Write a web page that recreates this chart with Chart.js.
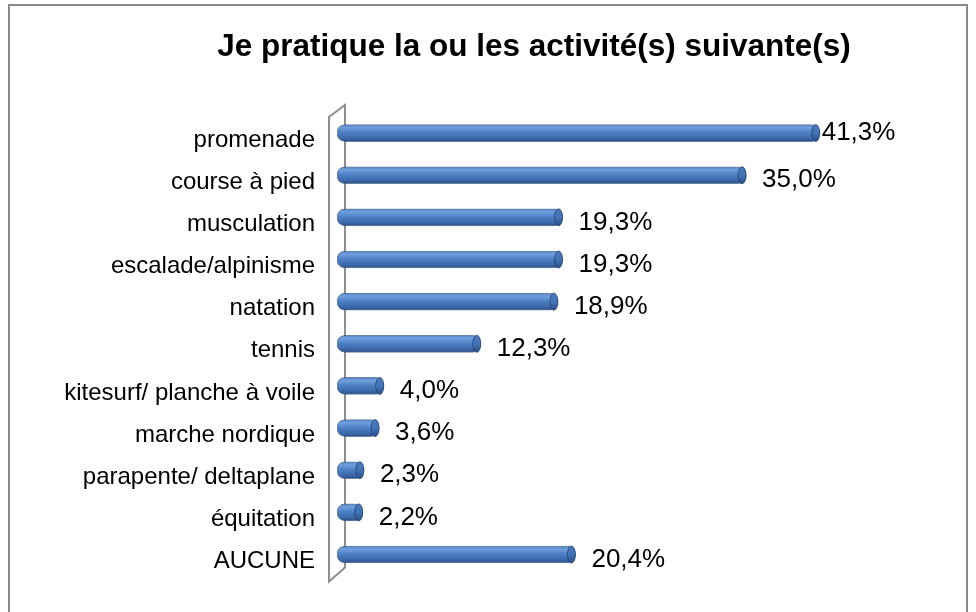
<!DOCTYPE html>
<html>
<head>
<meta charset="utf-8">
<script src="https://cdn.jsdelivr.net/npm/chart.js@4.4.1/dist/chart.umd.min.js"></script>
<style>
  body { margin: 0; background: #fff; }
  #wrap { position: relative; width: 976px; height: 612px; }
  #titre {
    position: absolute; left: 0; width: 1068px; top: 26px;
    text-align: center; font: bold 31.5px 'Liberation Sans', Arial, sans-serif;
    line-height: 38px; color: #000;
  }
</style>
</head>
<body>
<div id="wrap">
  <canvas id="barres" width="976" height="612"></canvas>
  <div id="titre"></div>
</div>
<script>
const categories = ['promenade', 'course à pied', 'musculation', 'escalade/alpinisme', 'natation',
  'tennis', 'kitesurf/ planche à voile', 'marche nordique', 'parapente/ deltaplane', 'équitation', 'AUCUNE'];
const values = [41.3, 35.0, 19.3, 19.3, 18.9, 12.3, 4.0, 3.6, 2.3, 2.2, 20.4];
const titre = 'Je pratique la ou les activité(s) suivante(s)';

const police = "'Liberation Sans', Arial, sans-serif";

document.getElementById('titre').textContent = titre;

function pourcent(v) {
  return v.toFixed(1).replace('.', ',') + '%';
}

// degradé vertical pour donner l'effet cylindre
function cylindre(ctx) {
  const chart = ctx.chart;
  if (ctx.dataIndex === undefined || !chart.chartArea || !chart.scales.y) return '#4f81bd';
  const y = chart.scales.y.getPixelForValue(ctx.dataIndex);
  const g = chart.ctx.createLinearGradient(0, y - 8.5, 0, y + 8.5);
  g.addColorStop(0, '#5283c8');
  g.addColorStop(0.18, '#719fdc');
  g.addColorStop(0.45, '#4f82c7');
  g.addColorStop(0.8, '#3c69aa');
  g.addColorStop(1, '#2a4e85');
  return g;
}

const decor = {
  id: 'decor',
  beforeDraw(chart) {
    const c = chart.ctx;
    c.save();
    c.strokeStyle = '#888';
    c.lineWidth = 2;
    c.strokeRect(9, 5, 958, 640);
    c.restore();
  },
  beforeDatasetsDraw(chart) {
    const {left, top, bottom} = chart.chartArea;
    const c = chart.ctx;
    c.save();
    c.strokeStyle = '#8e8e8e';
    c.lineWidth = 2;
    c.beginPath();
    c.moveTo(left - 8, top + 5);
    c.lineTo(left + 8, top - 7);
    c.lineTo(left + 8, bottom - 8);
    c.lineTo(left - 8, bottom + 6);
    c.closePath();
    c.stroke();
    c.restore();
  },
  afterDatasetsDraw(chart) {
    const c = chart.ctx;
    const meta = chart.getDatasetMeta(0);
    const area = chart.chartArea;
    c.save();
    meta.data.forEach((bar, i) => {
      // bout du cylindre
      const g = c.createLinearGradient(0, bar.y - 8, 0, bar.y + 8);
      g.addColorStop(0, '#4a79bd');
      g.addColorStop(0.5, '#4474b8');
      g.addColorStop(1, '#2b5089');
      c.beginPath();
      c.ellipse(bar.x - 4, bar.y, 4, 8.5, 0, 0, Math.PI * 2);
      c.fillStyle = g;
      c.fill();
      c.strokeStyle = 'rgba(35,65,110,0.8)';
      c.lineWidth = 1;
      c.stroke();

      // étiquette de valeur
      const txt = pourcent(values[i]);
      c.font = '26px ' + police;
      c.fillStyle = '#000';
      c.textBaseline = 'middle';
      c.textAlign = 'left';
      const w = c.measureText(txt).width;
      let x = bar.x + 16;
      let y = bar.y + 5;
      if (x + w > area.right) {
        x = bar.x + 2;
        y = bar.y;
      }
      c.fillText(txt, x, y);
    });
    c.restore();
  }
};

new Chart(document.getElementById('barres'), {
  type: 'bar',
  data: {
    labels: categories,
    datasets: [{
      label: 'activités',
      data: values,
      backgroundColor: cylindre,
      borderColor: 'rgba(40,75,125,0.7)',
      borderWidth: 1,
      borderRadius: 8,
      borderSkipped: false,
      barThickness: 17
    }]
  },
  options: {
    indexAxis: 'y',
    responsive: false,
    animation: false,
    layout: {
      padding: { left: 10, right: 78, top: 112, bottom: 35 }
    },
    plugins: {
      legend: { display: false },
      tooltip: { enabled: false },
      title: { display: false }
    },
    scales: {
      x: {
        display: false,
        min: 0,
        max: 48
      },
      y: {
        offset: true,
        grid: { display: false, drawTicks: false },
        border: { display: false },
        ticks: {
          color: '#000',
          padding: 22,
          labelOffset: 7,
          font: { family: police, size: 24 }
        },
        afterFit(scale) {
          scale.width = 327;
        }
      }
    }
  },
  plugins: [decor]
});
</script>
</body>
</html>
